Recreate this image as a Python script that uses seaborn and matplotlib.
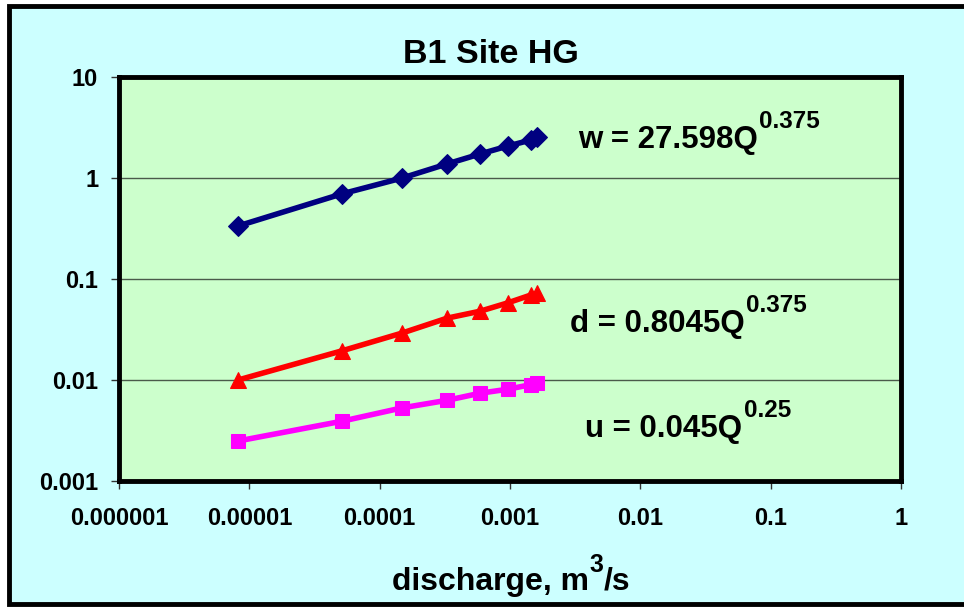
import numpy as np
import pandas as pd
import matplotlib
matplotlib.use("Agg")
import matplotlib.pyplot as plt
import seaborn as sns
from matplotlib.patches import Rectangle

# values
discharge = [8.2e-6, 5.1e-5, 1.49e-4, 3.3e-4, 5.9e-4, 9.6e-4, 1.45e-3, 1.62e-3]
width = [0.335, 0.695, 1.0, 1.38, 1.73, 2.07, 2.38, 2.55]
depth = [0.0100, 0.0194, 0.0292, 0.041, 0.048, 0.058, 0.0695, 0.072]
velocity = [0.00249, 0.0039, 0.0053, 0.0063, 0.0074, 0.0081, 0.0090, 0.0093]

x_ticks = [1e-6, 1e-5, 1e-4, 1e-3, 1e-2, 1e-1, 1]
x_ticklabels = ["0.000001", "0.00001", "0.0001", "0.001", "0.01", "0.1", "1"]
y_ticks = [0.001, 0.01, 0.1, 1, 10]
y_ticklabels = ["0.001", "0.01", "0.1", "1", "10"]

equations = [("w = 27.598Q", "0.375"), ("d = 0.8045Q", "0.375"), ("u = 0.045Q", "0.25")]

df = pd.DataFrame({"Q": discharge, "w": width, "d": depth, "u": velocity})

sns.set_style("white")
plt.rcParams["font.family"] = ["Liberation Sans", "DejaVu Sans"]
plt.rcParams["font.weight"] = "bold"
plt.rcParams["text.color"] = "black"
plt.rcParams["xtick.color"] = "black"
plt.rcParams["ytick.color"] = "black"

fig = plt.figure(figsize=(9.64, 6.07), dpi=100, facecolor="white")
# light cyan chart area with black frame
fig.patches.append(Rectangle((8.5 / 964, 3 / 607), 1.0, 1 - 8.5 / 607, transform=fig.transFigure,
                             facecolor="#CCFFFF", edgecolor="black", lw=3.5, zorder=-5))
ax = fig.add_axes([119 / 964, 1 - 481 / 607, 782 / 964, 404 / 607])
ax.set_zorder(2)
ax.set_facecolor("#CCFFCC")

ax.set_xscale("log")
ax.set_yscale("log")
ax.set_xlim(1e-6, 1)
ax.set_ylim(0.001, 10)

for yv in [0.01, 0.1, 1]:
    ax.axhline(yv, color="#4a5a4a", lw=1.0, zorder=1)

sns.lineplot(data=df, x="Q", y="w", ax=ax, color="#000080", lw=4, marker="D",
             markersize=10, markeredgecolor="#000080", zorder=3)
sns.lineplot(data=df, x="Q", y="d", ax=ax, color="#FF0000", lw=4, marker="^",
             markersize=12, markeredgecolor="#FF0000", zorder=3)
sns.lineplot(data=df, x="Q", y="u", ax=ax, color="#FF00FF", lw=4, marker="s",
             markersize=10, markeredgecolor="#FF00FF", zorder=3)

ax.set_xticks(x_ticks)
ax.set_xticklabels(x_ticklabels)
ax.set_yticks(y_ticks)
ax.set_yticklabels(y_ticklabels)
ax.minorticks_off()
ax.tick_params(axis="x", direction="out", length=6, width=1, color="#333333", pad=13,
               labelsize=17, labelcolor="black", bottom=True)
ax.tick_params(axis="y", direction="out", length=6, width=1, color="#333333", pad=9,
               labelsize=17, labelcolor="black", left=True)
ax.set_xlabel("")
ax.set_ylabel("")
for s in ax.spines.values():
    s.set_visible(True)
    s.set_color("black")
    s.set_linewidth(3.5)

# equations with raised exponents
eq_pos = [(0.587, 0.824), (0.577, 0.369), (0.596, 0.109)]
for (main, sup), (px, py) in zip(equations, eq_pos):
    t = ax.text(px, py, main, transform=ax.transAxes, fontsize=22.5, fontweight="bold",
                va="baseline", ha="left", zorder=4)
    ax.annotate(sup, xy=(1, py), xycoords=(t, "axes fraction"), xytext=(1, 14.5),
                textcoords="offset points", fontsize=17.5, fontweight="bold",
                va="baseline", ha="left", zorder=4)

fig.text(491 / 964, 1 - 63 / 607, "B1 Site HG", fontsize=24.5, fontweight="bold",
         ha="center", va="baseline")

# x axis title with raised 3
base = 1 - 590 / 607
t1 = fig.text(392 / 964, base, "discharge, m", fontsize=23, fontweight="bold",
              ha="left", va="baseline")
t2 = ax.annotate("3", xy=(1, base), xycoords=(t1, "figure fraction"), xytext=(0.5, 13),
                 textcoords="offset points", fontsize=18, fontweight="bold",
                 va="baseline", ha="left", annotation_clip=False)
ax.annotate("/s", xy=(1, base), xycoords=(t2, "figure fraction"), xytext=(0, 0),
            textcoords="offset points", fontsize=23, fontweight="bold",
            va="baseline", ha="left", annotation_clip=False)

fig.savefig("out.png", dpi=100, facecolor=fig.get_facecolor())
